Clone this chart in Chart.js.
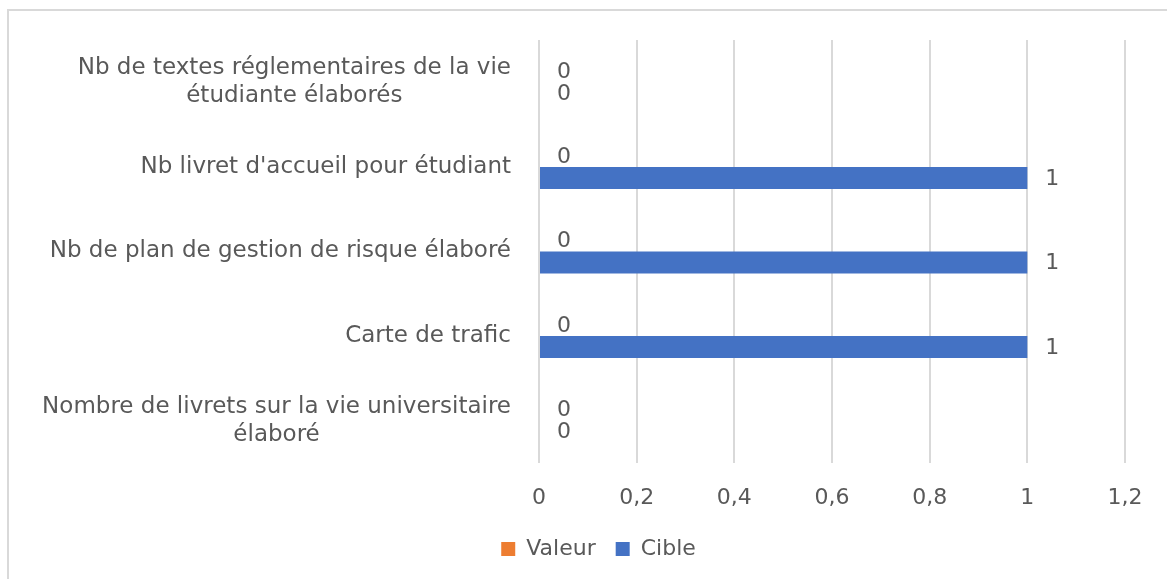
<!DOCTYPE html>
<html>
<head>
<meta charset="utf-8">
<script src="https://cdn.jsdelivr.net/npm/chart.js@4.4.1/dist/chart.umd.min.js"></script>
<style>
  html, body { margin: 0; padding: 0; background: #fff; overflow: hidden; }
  #frame {
    position: absolute; left: 7px; top: 9px; width: 1300px; height: 700px;
    border-left: 2px solid #d9d9d9; border-top: 2px solid #d9d9d9;
  }
  #wrap { position: absolute; left: 0; top: 0; width: 1167px; height: 579px; }
</style>
</head>
<body>
<div id="frame"></div>
<div id="wrap"><canvas id="chart"></canvas></div>
<script>
const categories = [
  ['Nb de textes réglementaires de la vie', 'étudiante élaborés'],
  "Nb livret d'accueil pour étudiant",
  'Nb de plan de gestion de risque élaboré',
  'Carte de trafic',
  ['Nombre de livrets sur la vie universitaire', 'élaboré']
];
const valeur = [0, 0, 0, 0, 0];
const cible = [0, 1, 1, 1, 0];
const xMax = 1.2;
const xStep = 0.2;

const TEXT = '#595959';
const FONT = '"DejaVu Sans", sans-serif';
const FSIZE = 22;

// value labels to the right of each bar end
const barLabels = {
  id: 'barLabels',
  afterDatasetsDraw(chart) {
    const ctx = chart.ctx;
    ctx.save();
    ctx.font = FSIZE + 'px ' + FONT;
    ctx.fillStyle = TEXT;
    ctx.textAlign = 'left';
    ctx.textBaseline = 'middle';
    chart.data.datasets.forEach((ds, i) => {
      chart.getDatasetMeta(i).data.forEach((bar, j) => {
        ctx.fillText(String(ds.data[j]), bar.x + 18, bar.y + 1);
      });
    });
    ctx.restore();
  }
};

// category labels: block right-aligned, lines centred like Excel
const catLabels = {
  id: 'catLabels',
  afterDraw(chart) {
    const ctx = chart.ctx;
    const y = chart.scales.y;
    const right = chart.chartArea.left - 28;
    const lh = 28;
    ctx.save();
    ctx.font = '23px ' + FONT;
    ctx.fillStyle = TEXT;
    ctx.textAlign = 'center';
    ctx.textBaseline = 'middle';
    categories.forEach((c, i) => {
      const lines = Array.isArray(c) ? c : [c];
      const w = Math.max(...lines.map(l => ctx.measureText(l).width));
      const cx = right - w / 2;
      const cy = y.getPixelForTick(i);
      lines.forEach((l, k) => {
        ctx.fillText(l, cx, cy + (k - (lines.length - 1) / 2) * lh);
      });
    });
    ctx.restore();
  }
};

// the legend sits a bit right of the canvas centre in the original
const legendShift = {
  id: 'legendShift',
  afterLayout(chart) {
    if (chart.legend) {
      chart.legend.left += 36;
      chart.legend.right += 36;
    }
  }
};

new Chart(document.getElementById('chart'), {
  type: 'bar',
  data: {
    labels: categories,
    datasets: [
      { label: 'Valeur', data: valeur, backgroundColor: '#ED7D31', barPercentage: 1, categoryPercentage: 0.52 },
      { label: 'Cible', data: cible, backgroundColor: '#4472C4', barPercentage: 1, categoryPercentage: 0.52 }
    ]
  },
  options: {
    indexAxis: 'y',
    responsive: true,
    maintainAspectRatio: false,
    animation: false,
    layout: { padding: { top: 40, right: 42, bottom: 9, left: 0 } },
    scales: {
      x: {
        min: 0, max: xMax,
        ticks: {
          stepSize: xStep,
          color: TEXT,
          font: { family: FONT, size: FSIZE },
          padding: 22,
          callback: v => String(Math.round(v * 10) / 10).replace('.', ',')
        },
        grid: { color: '#d9d9d9', lineWidth: 2, drawTicks: false },
        border: { display: false },
        afterFit: s => { s.height = 55; }
      },
      y: {
        ticks: { display: false },
        grid: { display: false },
        border: { display: false },
        afterFit: s => { s.width = 539; }
      }
    },
    plugins: {
      legend: {
        position: 'bottom',
        labels: {
          color: TEXT,
          font: { family: FONT, size: FSIZE },
          boxWidth: 14, boxHeight: 14, padding: 20
        }
      },
      tooltip: { enabled: false }
    }
  },
  plugins: [barLabels, catLabels, legendShift]
});
</script>
</body>
</html>
